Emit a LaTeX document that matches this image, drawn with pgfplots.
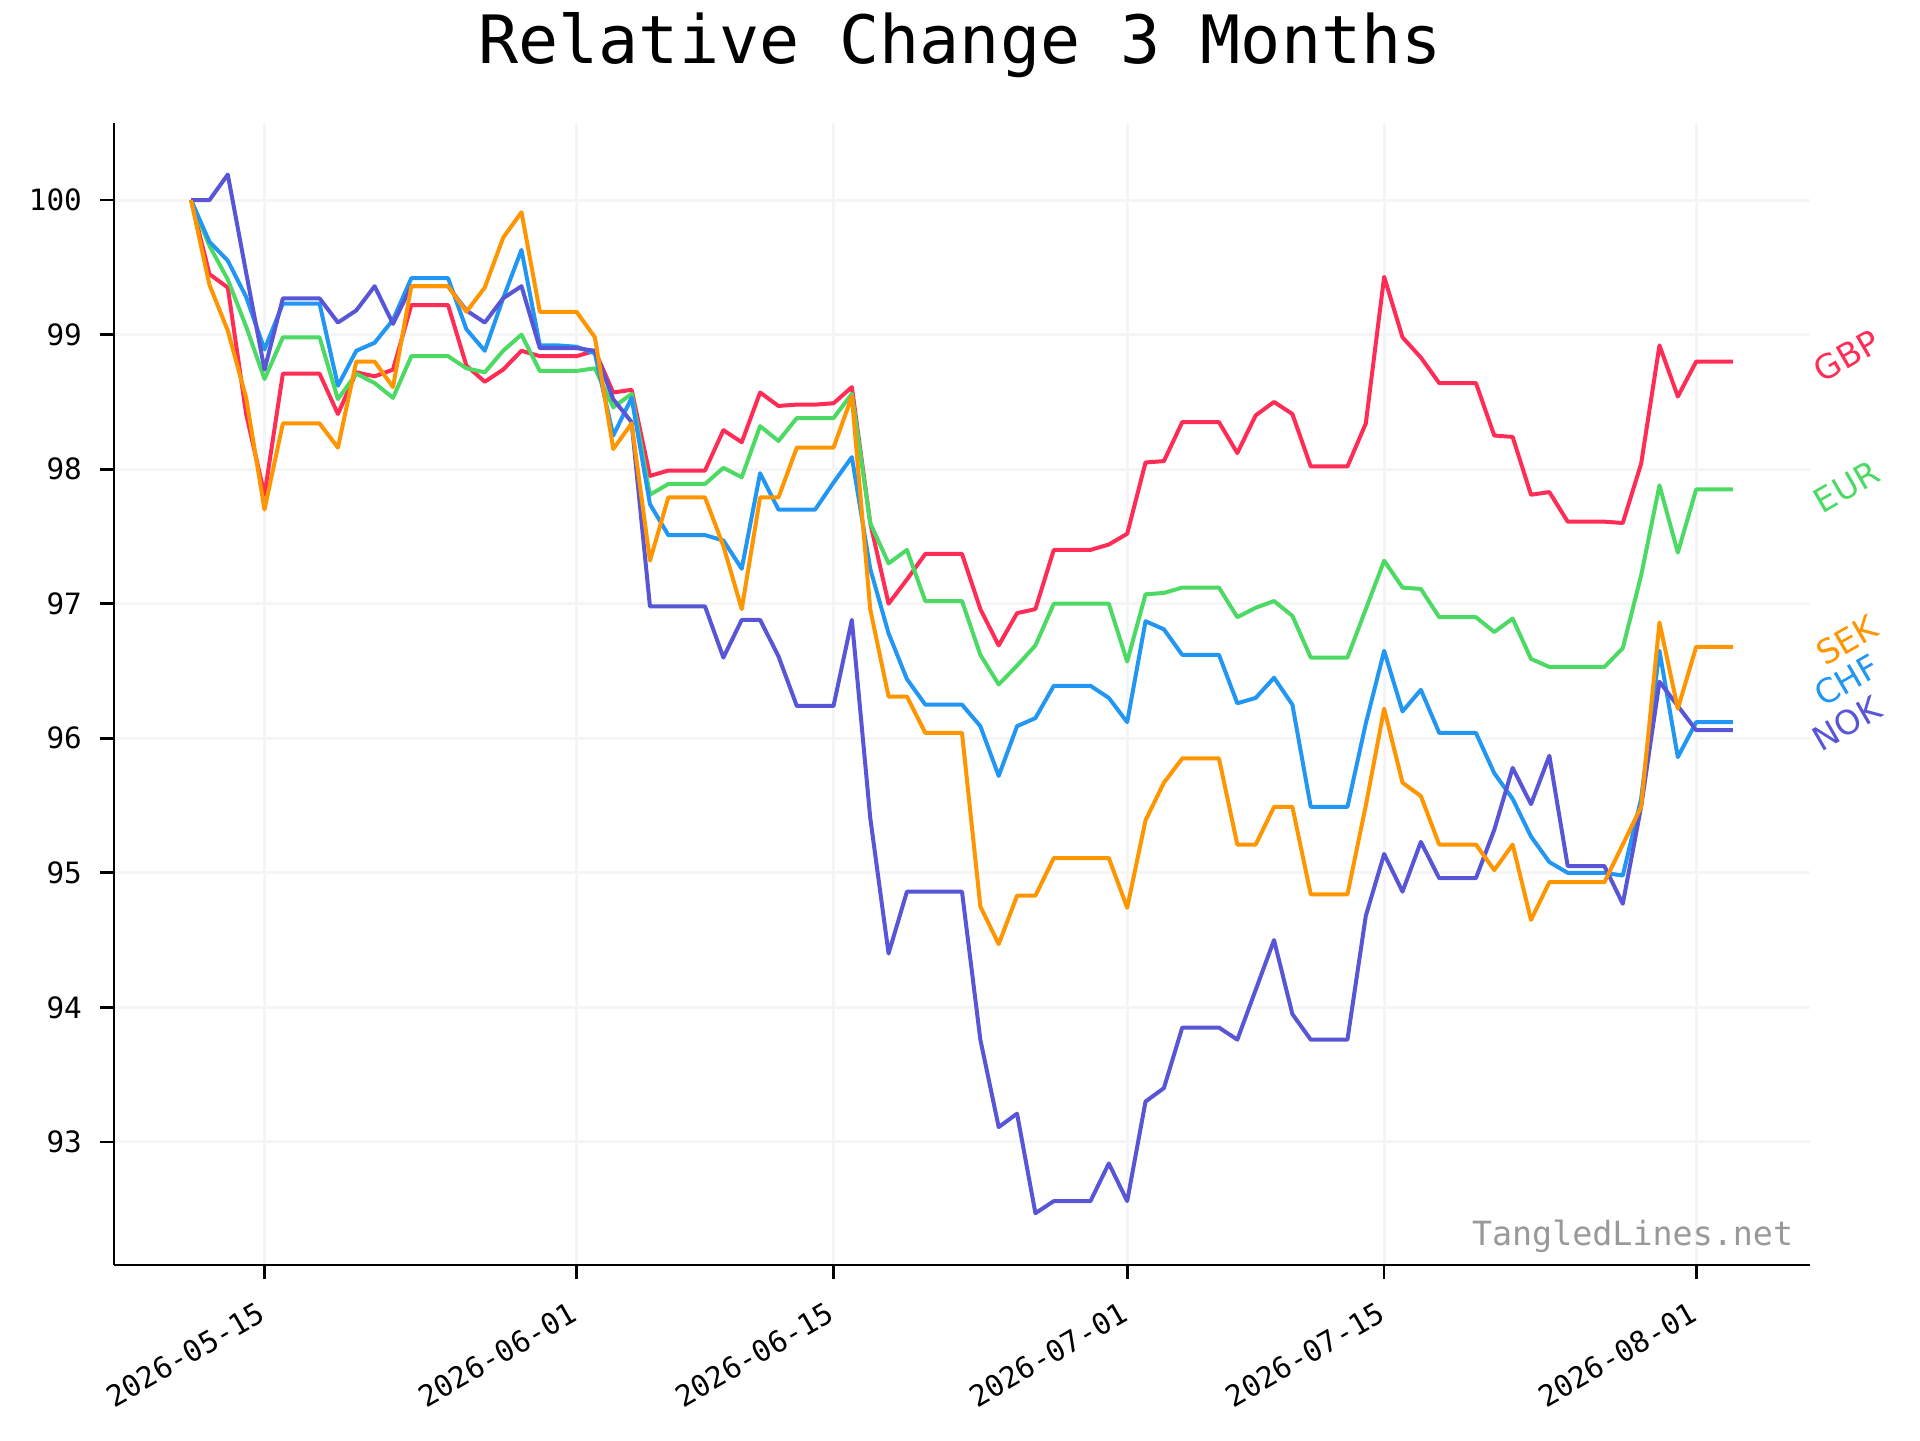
\documentclass[border=0pt]{standalone}
\usepackage{pgfplots}
\usepackage{pgfplotstable}
\pgfplotsset{compat=1.18}
\usepackage{fontspec}
\setmainfont{DejaVu Sans}
\setmonofont{DejaVu Sans Mono}
\definecolor{cGBP}{HTML}{FF2D55}
\definecolor{cEUR}{HTML}{4CD964}
\definecolor{cSEK}{HTML}{FF9500}
\definecolor{cCHF}{HTML}{2196F3}
\definecolor{cNOK}{HTML}{5856D6}
\definecolor{gridc}{HTML}{F5F5F5}
\definecolor{wm}{HTML}{999999}

\pgfplotstableread{
d gbp eur chf sek nok
0 100 100 100 100 100
1 99.45 99.66 99.69 99.37 100
2 99.35 99.41 99.55 99.03 100.19
3 98.41 99.06 99.28 98.53 99.46
4 97.81 98.67 98.89 97.70 98.74
5 98.71 98.98 99.23 98.34 99.27
6 98.71 98.98 99.23 98.34 99.27
7 98.71 98.98 99.23 98.34 99.27
8 98.41 98.52 98.62 98.16 99.09
9 98.72 98.71 98.88 98.80 99.18
10 98.69 98.64 98.94 98.80 99.36
11 98.74 98.53 99.11 98.61 99.08
12 99.22 98.84 99.42 99.36 99.36
13 99.22 98.84 99.42 99.36 99.36
14 99.22 98.84 99.42 99.36 99.36
15 98.77 98.75 99.04 99.17 99.18
16 98.65 98.72 98.88 99.35 99.09
17 98.74 98.88 99.27 99.72 99.27
18 98.88 99.00 99.63 99.91 99.36
19 98.84 98.73 98.92 99.17 98.90
20 98.84 98.73 98.92 99.17 98.90
21 98.84 98.73 98.91 99.17 98.90
22 98.88 98.75 98.86 98.98 98.88
23 98.57 98.46 98.25 98.15 98.52
24 98.59 98.56 98.53 98.34 98.35
25 97.95 97.81 97.74 97.32 96.98
26 97.99 97.89 97.51 97.79 96.98
27 97.99 97.89 97.51 97.79 96.98
28 97.99 97.89 97.51 97.79 96.98
29 98.29 98.01 97.47 97.43 96.60
30 98.20 97.94 97.26 96.96 96.88
31 98.57 98.32 97.97 97.79 96.88
32 98.47 98.21 97.70 97.79 96.61
33 98.48 98.38 97.70 98.16 96.24
34 98.48 98.38 97.70 98.16 96.24
35 98.49 98.38 97.90 98.16 96.24
36 98.61 98.56 98.09 98.54 96.88
37 97.60 97.60 97.26 96.96 95.41
38 97.00 97.30 96.78 96.31 94.40
39 97.18 97.40 96.44 96.31 94.86
40 97.37 97.02 96.25 96.04 94.86
41 97.37 97.02 96.25 96.04 94.86
42 97.37 97.02 96.25 96.04 94.86
43 96.96 96.62 96.09 94.75 93.76
44 96.69 96.40 95.72 94.47 93.11
45 96.93 96.54 96.09 94.83 93.21
46 96.96 96.69 96.15 94.83 92.47
47 97.40 97.00 96.39 95.11 92.56
48 97.40 97.00 96.39 95.11 92.56
49 97.40 97.00 96.39 95.11 92.56
50 97.44 97.00 96.30 95.11 92.84
51 97.52 96.57 96.12 94.74 92.56
52 98.05 97.07 96.87 95.39 93.30
53 98.06 97.08 96.81 95.67 93.40
54 98.35 97.12 96.62 95.85 93.85
55 98.35 97.12 96.62 95.85 93.85
56 98.35 97.12 96.62 95.85 93.85
57 98.12 96.90 96.26 95.21 93.76
58 98.40 96.97 96.30 95.21 94.13
59 98.50 97.02 96.45 95.49 94.50
60 98.41 96.91 96.25 95.49 93.95
61 98.02 96.60 95.49 94.84 93.76
62 98.02 96.60 95.49 94.84 93.76
63 98.02 96.60 95.49 94.84 93.76
64 98.34 96.96 96.11 95.50 94.68
65 99.43 97.32 96.65 96.22 95.14
66 98.98 97.12 96.20 95.67 94.86
67 98.83 97.11 96.36 95.57 95.23
68 98.64 96.90 96.04 95.21 94.96
69 98.64 96.90 96.04 95.21 94.96
70 98.64 96.90 96.04 95.21 94.96
71 98.25 96.79 95.74 95.02 95.32
72 98.24 96.89 95.55 95.21 95.78
73 97.81 96.59 95.27 94.65 95.51
74 97.83 96.53 95.08 94.93 95.87
75 97.61 96.53 95.00 94.93 95.05
76 97.61 96.53 95.00 94.93 95.05
77 97.61 96.53 95.00 94.93 95.05
78 97.60 96.67 94.98 95.21 94.77
79 98.04 97.21 95.55 95.49 95.49
80 98.92 97.88 96.65 96.86 96.42
81 98.54 97.38 95.86 96.22 96.24
82 98.80 97.85 96.12 96.68 96.06
83 98.80 97.85 96.12 96.68 96.06
84 98.80 97.85 96.12 96.68 96.06
}\data

\begin{document}
\begin{tikzpicture}
\begin{axis}[
  scale only axis, width=508.8pt, height=342.6pt,
  xmin=-4.2, xmax=88.2, ymin=92.085, ymax=100.573,
  axis lines=left, axis line style={-, line width=0.8pt, black},
  tick align=outside, major tick length=4.2pt,
  tick style={line width=0.8pt, black},
  xtick={4,21,35,51,65,82},
  xticklabels={2026-05-15,2026-06-01,2026-06-15,2026-07-01,2026-07-15,2026-08-01},
  ytick={93,94,95,96,97,98,99,100},
  grid=major, major grid style={gridc, line width=0.9pt},
  tick label style={font=\ttfamily\fontsize{8.8}{10.5}\selectfont},
  /pgf/number format/assume math mode=true,
  xticklabel style={xshift=-2pt, yshift=-5pt, rotate=30, anchor=north east, inner sep=1pt},
  yticklabel style={xshift=-1.9pt},
  clip=false,
  every axis plot/.append style={line width=1.2pt, line join=round, no marks},
]
\addplot[cGBP] table[x=d, y=gbp] {\data};
\addplot[cEUR] table[x=d, y=eur] {\data};
\addplot[cCHF] table[x=d, y=chf] {\data};
\addplot[cNOK] table[x=d, y=nok] {\data};
\addplot[cSEK] table[x=d, y=sek] {\data};
\node[rotate=30, text=cGBP, font=\fontsize{10}{12}\selectfont] at (axis cs:90.2,98.84) {GBP};
\node[rotate=30, text=cEUR, font=\fontsize{10}{12}\selectfont] at (axis cs:90.2,97.87) {EUR};
\node[rotate=30, text=cSEK, font=\fontsize{10}{12}\selectfont] at (axis cs:90.2,96.73) {SEK};
\node[rotate=30, text=cCHF, font=\fontsize{10}{12}\selectfont] at (axis cs:90.2,96.43) {CHF};
\node[rotate=30, text=cNOK, font=\fontsize{10}{12}\selectfont] at (axis cs:90.2,96.11) {NOK};
\node[anchor=east, text=wm, font=\ttfamily\fontsize{10}{12}\selectfont] at (rel axis cs:0.997,0.025) {TangledLines.net};
\end{axis}
\node[anchor=base, font=\ttfamily\fontsize{20}{24}\selectfont] at (253.8pt,360.3pt) {Relative Change 3 Months};
\pgfresetboundingbox
\path[use as bounding box] (-34.2pt,-52.5pt) rectangle (541.8pt,379.5pt);
\end{tikzpicture}
\end{document}
